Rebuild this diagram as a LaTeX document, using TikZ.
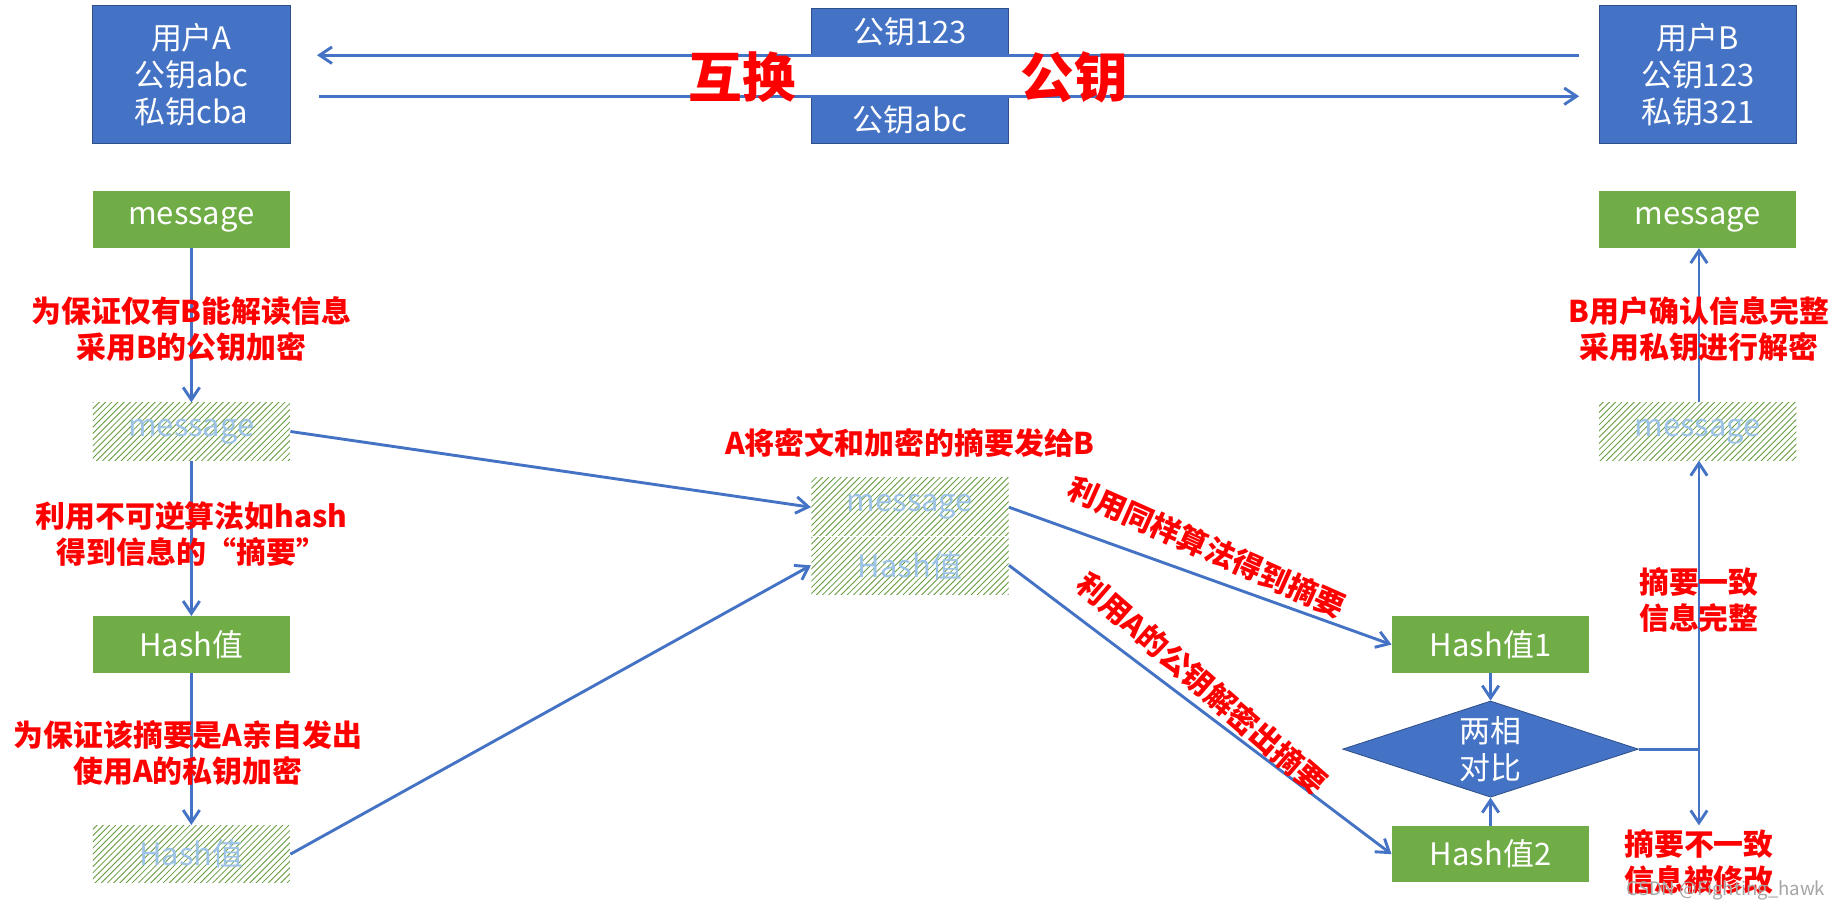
\documentclass[tikz,border=0pt]{standalone}
\usepackage{fontspec}
\setmainfont{Noto Sans CJK SC}
\usetikzlibrary{patterns,shapes.geometric,arrows.meta}
\definecolor{bbox}{HTML}{4472C4}
\definecolor{gbox}{HTML}{70AD47}
\definecolor{ltxt}{HTML}{9DC3E6}
\begin{document}
\begin{tikzpicture}[x=0.02cm,y=-0.02cm,
  blue box/.style={fill=bbox,draw=bbox!70!black,text=white,font=\fontsize{15}{18}\selectfont,inner sep=0pt},
  green box/.style={fill=gbox,text=white,font=\fontsize{15}{18}\selectfont,inner sep=0pt,minimum width=3.36cm,minimum height=0.96cm},
  hatch box/.style={pattern=north east lines,pattern color=gbox!90!black,text=ltxt,font=\fontsize{15}{18}\selectfont,inner sep=0pt,minimum width=3.36cm,minimum height=0.98cm},
  conn/.style={draw=bbox,line width=1.4pt,-{Straight Barb[length=6pt,width=8pt]}},
  lbl/.style={text=red,font=\bfseries\fontsize{14.5}{17.5}\selectfont,align=center,inner sep=1pt}]
\useasboundingbox (0,0) rectangle (1568,775);
\fill[white] (0,0) rectangle (1568,775);
% top
\node[blue box,minimum width=3.36cm,minimum height=2.34cm,align=center] (ua) at (163,63.5) {用户A\\公钥abc\\私钥cba};
\node[blue box,minimum width=3.36cm,minimum height=2.34cm,align=center] (ub) at (1446,63.5) {用户B\\公钥123\\私钥321};
\node[blue box,minimum width=3.36cm,minimum height=0.8cm] (k1) at (775,27) {公钥123};
\node[blue box,minimum width=3.36cm,minimum height=0.8cm] (k2) at (775,102) {公钥abc};
\coordinate (t1) at (1345,47); \coordinate (t2) at (270,47);
\coordinate (t3) at (272,82); \coordinate (t4) at (1345,82);
\draw[conn] (t1) -- (t2);
\draw[conn] (t3) -- (t4);
\node[text=red,font=\bfseries\fontsize{26}{28}\selectfont] (hh) at (632,66) {互换};
\node[text=red,font=\bfseries\fontsize{26}{28}\selectfont] (gy) at (915,66) {公钥};
% left column
\node[green box] (ma) at (163,187) {message};
\node[hatch box] (mah) at (163,367.5) {message};
\node[green box] (ha) at (163,549) {Hash值};
\node[hatch box] (hah) at (163,727.5) {Hash值};
\draw[conn] (ma) -- (mah);
\draw[conn] (mah) -- (ha);
\draw[conn] (ha) -- (hah);
\node[lbl] (l1) at (163,280) {为保证仅有B能解读信息\\采用B的公钥加密};
\node[lbl] (l2) at (163,455) {利用不可逆算法如hash\\得到信息的“摘要”};
\node[lbl] (l3) at (160,641) {为保证该摘要是A亲自发出\\使用A的私钥加密};
% center
\node[hatch box,minimum height=1cm] (cm) at (775,432) {message};
\node[hatch box,minimum height=0.98cm] (ch) at (775,481.5) {Hash值};
\draw[white,line width=0.6pt] (691,457) -- (859,457);
\draw[conn] (mah.east) -- (cm.west);
\draw[conn] (hah.east) -- (ch.west);
\node[lbl] (l4) at (775,377) {A将密文和加密的摘要发给B};
% right
\node[green box] (h1) at (1269.5,549) {Hash值1};
\node[green box] (h2) at (1269.5,727.5) {Hash值2};
\node[diamond,fill=bbox,draw=bbox!70!black,aspect=3.07,minimum width=5.04cm,minimum height=1.64cm,inner sep=0pt,text=white,align=center,font=\fontsize{15}{18}\selectfont] (dm) at (1269.5,638) {两相\\对比};
\draw[conn] (cm.east) -- (h1.west);
\draw[conn] (ch.east) -- (h2.west);
\node[lbl,rotate=-24] (l5) at (1028,466) {利用同样算法得到摘要};
\node[lbl,rotate=-41] (l6) at (1024,582) {利用A的公钥解密出摘要};
\draw[conn] (h1) -- (dm.north);
\draw[conn] (h2) -- (dm.south);
\node[green box] (mb) at (1446,187) {message};
\node[hatch box] (mbh) at (1446,367.5) {message};
\coordinate (jn) at (1447,638);
\coordinate (dn) at (1447,703);
\draw[draw=bbox,line width=1.4pt] (dm.east) -- (jn);
\draw[conn] (jn) -- (mbh.south -| jn);
\draw[conn] (jn) -- (dn);
\draw[conn] (mbh.north -| jn) -- (mb.south -| jn);
\node[lbl] (l7) at (1447,280) {B用户确认信息完整\\采用私钥进行解密};
\node[lbl] (l8) at (1447,511) {摘要一致\\信息完整};
\node[lbl] (l9) at (1447,734) {摘要不一致\\信息被修改};
\node[text=gray!70,font=\fontsize{9}{10}\selectfont] (wm) at (1470,758) {CSDN @Fighting\_hawk};
\end{tikzpicture}
\end{document}
